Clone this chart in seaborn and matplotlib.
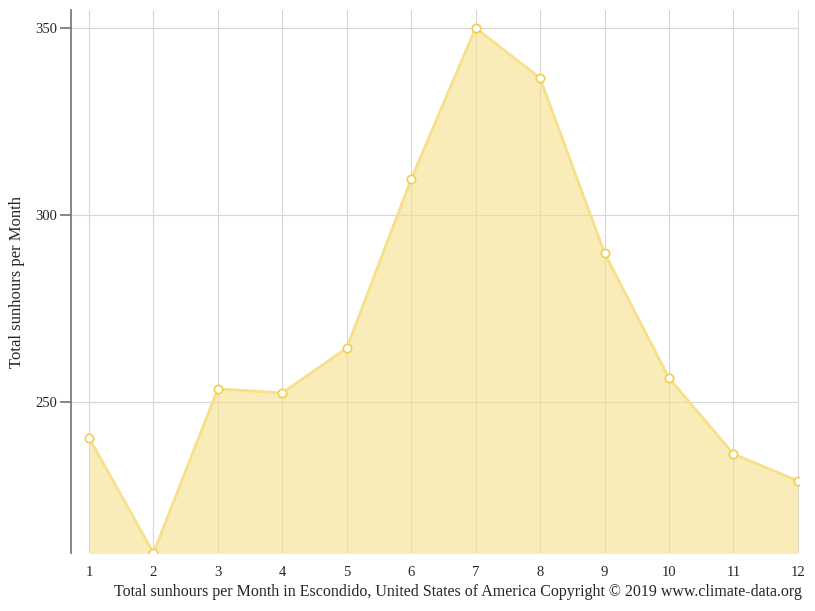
import matplotlib
matplotlib.use("Agg")
import matplotlib.pyplot as plt
import seaborn as sns
import pandas as pd

months = list(range(1, 13))
sunhours = [240.4, 209.6, 253.5, 252.4, 264.4, 309.6, 350.0, 336.6, 289.8, 256.4, 236.1, 228.9]
yticks = [250, 300, 350]

sns.set_theme(style="white")
plt.rcParams['font.family'] = ['Liberation Serif', 'DejaVu Serif']

df = pd.DataFrame({"month": months, "sun": sunhours})

fig = plt.figure(figsize=(8.15, 6.11), dpi=100)
ax = fig.add_axes([0.0871, 0.0949, 0.9805 - 0.0871, 0.9836 - 0.0949])

ax.fill_between(df["month"], df["sun"], 200, color="#f7e08a", alpha=0.6, zorder=1, linewidth=0)
sns.lineplot(data=df, x="month", y="sun", ax=ax, color="#f7e08a", linewidth=2,
             marker="o", markersize=6, markerfacecolor="white",
             markeredgecolor="#f2cf4a", markeredgewidth=1.2, zorder=3)

ax.set_xlim(0.72, 12.02)
ax.set_ylim(209.6, 354.8)
ax.set_xticks(months)
ax.set_yticks(yticks)
ax.grid(True, color="#d6d6d6", linewidth=0.8, zorder=0)
ax.set_axisbelow(True)
for s in ["top", "right", "bottom"]:
    ax.spines[s].set_visible(False)
ax.spines["left"].set_color("#777777")
ax.tick_params(axis="y", left=True, length=8, color="#777777", labelsize=10.5, pad=2)
ax.tick_params(axis="x", bottom=False, labelsize=10.5, pad=3)
ax.set_xlabel("")
ax.set_ylabel("")
fig.text(0.021, 0.538, "Total sunhours per Month", rotation=90, ha="center", va="center", fontsize=12)

fig.text(0.562, 0.031, "Total sunhours per Month in Escondido, United States of America Copyright © 2019 www.climate-data.org",
         ha="center", va="center", fontsize=11.5)

fig.savefig("out.png", dpi=100)
